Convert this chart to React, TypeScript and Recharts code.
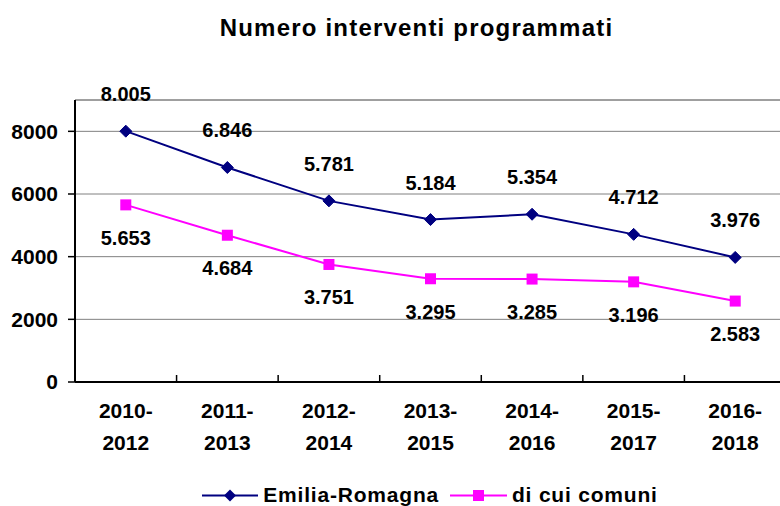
import React from "react";
import {
  LineChart,
  Line,
  XAxis,
  YAxis,
  CartesianGrid,
  ReferenceLine,
  LabelList,
  Legend,
} from "recharts";

const periods = ["2010-2012", "2011-2013", "2012-2014", "2013-2015", "2014-2016", "2015-2017", "2016-2018"];
const emiliaRomagna = [8005, 6846, 5781, 5184, 5354, 4712, 3976];
const diCuiComuni = [5653, 4684, 3751, 3295, 3285, 3196, 2583];
const yTicks = [0, 2000, 4000, 6000, 8000];
const yMax = 9000;
const seriesNames = ["Emilia-Romagna", "di cui comuni"];
const titleText = "Numero interventi programmati";

const NAVY = "#000080";
const MAGENTA = "#FF00FF";
const FONT = "'Liberation Sans', Arial, sans-serif";

const data = periods.map((p, i) => ({ period: p, er: emiliaRomagna[i], cc: diCuiComuni[i] }));

const fmt = (n: number) => String(n).replace(/\B(?=(\d{3})+(?!\d))/g, ".");

const DiamondDot = (props: any) => {
  const { cx, cy, index } = props;
  if (cx == null || cy == null) return <g key={`d${index}`} />;
  const r = 6;
  return (
    <polygon
      key={`d${index}`}
      points={`${cx},${cy - r} ${cx + r},${cy} ${cx},${cy + r} ${cx - r},${cy}`}
      fill={NAVY}
      stroke={NAVY}
    />
  );
};

const SquareDot = (props: any) => {
  const { cx, cy, index } = props;
  if (cx == null || cy == null) return <g key={`s${index}`} />;
  const h = 5.5;
  return <rect key={`s${index}`} x={cx - h} y={cy - h} width={h * 2} height={h * 2} fill={MAGENTA} />;
};

const labelAbove = (props: any) => {
  const { x, y, value } = props;
  return (
    <text x={x} y={y - 30} textAnchor="middle" fontFamily={FONT} fontWeight="bold" fontSize={20} fill="#000">
      {fmt(value)}
    </text>
  );
};

const labelBelow = (props: any) => {
  const { x, y, value } = props;
  return (
    <text x={x} y={y + 40} textAnchor="middle" fontFamily={FONT} fontWeight="bold" fontSize={20} fill="#000">
      {fmt(value)}
    </text>
  );
};

const XTick = (props: any) => {
  const { x, y, payload } = props;
  const parts = String(payload.value).split("-");
  const half = payload && typeof payload.offset === "number" ? payload.offset : 0;
  return (
    <g>
      {payload.index > 0 && half > 0 ? (
        <line x1={x - half} y1={y} x2={x - half} y2={y - 7} stroke="#000" strokeWidth={1.5} />
      ) : null}
      <text x={x} y={y + 35.5} textAnchor="middle" fontFamily={FONT} fontWeight="bold" fontSize={21} fill="#000">
        {parts[0] + "-"}
      </text>
      <text x={x} y={y + 67.5} textAnchor="middle" fontFamily={FONT} fontWeight="bold" fontSize={21} fill="#000">
        {parts[1]}
      </text>
    </g>
  );
};

const LegendContent = () => (
  <div
    style={{
      display: "flex",
      justifyContent: "center",
      alignItems: "center",
      fontFamily: FONT,
      fontWeight: "bold",
      fontSize: 21,
      lineHeight: "24px",
      letterSpacing: 0.8,
      color: "#000",
    }}
  >
    <svg width={56} height={24} style={{ marginRight: 5 }}>
      <line x1={0} y1={12.5} x2={56} y2={12.5} stroke={NAVY} strokeWidth={2} />
      <polygon points="28,6.5 34,12.5 28,18.5 22,12.5" fill={NAVY} />
    </svg>
    <span style={{ marginRight: 11 }}>{seriesNames[0]}</span>
    <svg width={57} height={24} style={{ marginRight: 5 }}>
      <line x1={0} y1={12.5} x2={57} y2={12.5} stroke={MAGENTA} strokeWidth={2} />
      <rect x={23} y={7} width={11} height={11} fill={MAGENTA} />
    </svg>
    <span>{seriesNames[1]}</span>
  </div>
);

export default function App() {
  return (
    <div
      style={{
        position: "absolute",
        left: 0,
        top: 0,
        width: 780,
        height: 506,
        overflow: "hidden",
        background: "#fff",
      }}
    >
      <div
        style={{
          position: "absolute",
          left: 0,
          top: 16,
          width: 833,
          textAlign: "center",
          fontFamily: FONT,
          fontWeight: "bold",
          fontSize: 24,
          lineHeight: "24px",
          letterSpacing: 1.2,
          color: "#000",
          zIndex: 2,
        }}
      >
        {titleText}
      </div>
      <LineChart
        width={800}
        height={506}
        data={data}
        margin={{ top: 100, right: 14, left: 0, bottom: 0 }}
      >
        <CartesianGrid horizontal vertical={false} stroke="#808080" strokeWidth={1} />
        <ReferenceLine y={yMax} stroke="#808080" strokeWidth={1} />
        <XAxis
          dataKey="period"
          type="category"
          scale="band"
          height={124}
          tickLine={false}
          tickSize={0}
          tickMargin={0}
          axisLine={{ stroke: "#000", strokeWidth: 2 }}
          tick={<XTick />}
          interval={0}
        />
        <YAxis
          width={75}
          domain={[0, yMax]}
          ticks={yTicks}
          tickSize={7}
          tickMargin={10}
          axisLine={{ stroke: "#000", strokeWidth: 2 }}
          tickLine={{ stroke: "#000", strokeWidth: 1.5 }}
          tick={{ fontFamily: FONT, fontWeight: "bold", fontSize: 21, fill: "#000" }}
          allowDataOverflow
        />
        <Line
          dataKey="er"
          stroke={NAVY}
          strokeWidth={2}
          dot={DiamondDot}
          activeDot={false}
          isAnimationActive={false}
        >
          <LabelList dataKey="er" content={labelAbove} />
        </Line>
        <Line
          dataKey="cc"
          stroke={MAGENTA}
          strokeWidth={2}
          dot={SquareDot}
          activeDot={false}
          isAnimationActive={false}
        >
          <LabelList dataKey="cc" content={labelBelow} />
        </Line>
        <Legend
          layout="horizontal"
          verticalAlign="middle"
          align="center"
          content={<LegendContent />}
          wrapperStyle={{ top: 483, left: 0, width: 860, height: 24 }}
        />
      </LineChart>
    </div>
  );
}
